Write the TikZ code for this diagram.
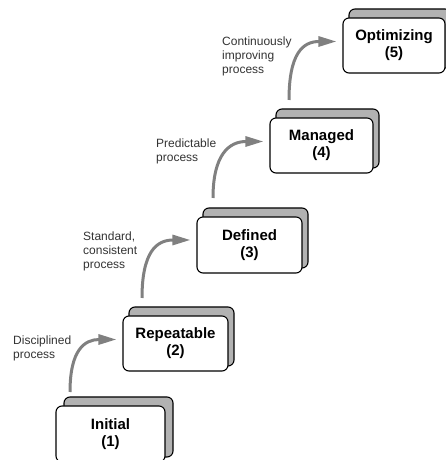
\documentclass[tikz,border=0pt]{standalone}
\usepackage{fontspec}
\setmainfont{Liberation Sans}
\usetikzlibrary{arrows.meta,calc}
\definecolor{shadowgray}{RGB}{178,178,178}
\definecolor{arrowgray}{RGB}{128,128,128}
\begin{document}
\begin{tikzpicture}[x=1pt,y=1pt,
  front/.style={draw=black, line width=1.1pt, fill=white, rounded corners=6pt,
    align=center, inner sep=0pt,
    font=\fontsize{15}{17}\selectfont\bfseries},
  back/.style={draw=black, line width=1.1pt, fill=shadowgray, rounded corners=6pt,
    inner sep=0pt},
  lab/.style={align=left, anchor=north west, inner sep=0pt,
    font=\fontsize{12}{14}\selectfont, text=black!80},
  flow/.style={draw=arrowgray, line width=3pt,
    -{Triangle[length=18pt,width=10pt]}}
]
\useasboundingbox (0,0) rectangle (446,460);

% shadow boxes
\node[back, minimum width=109pt, minimum height=60pt] (s1) at (118.5,33) {};
\node[back, minimum width=105pt, minimum height=59pt] (s2) at (181.5,123.5) {};
\node[back, minimum width=105pt, minimum height=60pt] (s3) at (255.5,222) {};
\node[back, minimum width=103pt, minimum height=59pt] (s4) at (327.5,321.5) {};
\node[back, minimum width=102pt, minimum height=59pt] (s5) at (400,421.5) {};

% front boxes
\node[front, minimum width=109pt, minimum height=56pt] (b1) at (110.5,26) {Initial\\(1)};
\node[front, minimum width=105pt, minimum height=55pt] (b2) at (175.5,116.5) {Repeatable\\(2)};
\node[front, minimum width=105pt, minimum height=56pt] (b3) at (249.5,215) {Defined\\(3)};
\node[front, minimum width=103pt, minimum height=55pt] (b4) at (321.5,314.5) {Managed\\(4)};
\node[front, minimum width=102pt, minimum height=55pt] (b5) at (394,414.5) {Optimizing\\(5)};

% labels
\node[lab] (l1) at (13,124) {Disciplined\\process};
\node[lab] (l2) at (83,228) {Standard,\\consistent\\process};
\node[lab] (l3) at (156,321) {Predictable\\process};
\node[lab] (l4) at (222,423) {Continuously\\improving\\process};

% arrow start points
\coordinate (a1) at (70,68);
\coordinate (a2) at (142,162);
\coordinate (a3) at (213,262);
\coordinate (a4) at (289,360);

\coordinate (e2) at ($(b2.west)+(-6,4)$);
\coordinate (e3) at ($(b3.west)+(-6,5)$);
\coordinate (e4) at ($(b4.west)+(-6,4)$);
\coordinate (e5) at ($(b5.west)+(-6,4)$);

\draw[flow] (a1) .. controls +(0,42) and +(-32,0) .. (e2);
\draw[flow] (a2) .. controls +(0,46) and +(-34,0) .. (e3);
\draw[flow] (a3) .. controls +(0,44) and +(-34,0) .. (e4);
\draw[flow] (a4) .. controls +(0,46) and +(-34,0) .. (e5);
\end{tikzpicture}
\end{document}
